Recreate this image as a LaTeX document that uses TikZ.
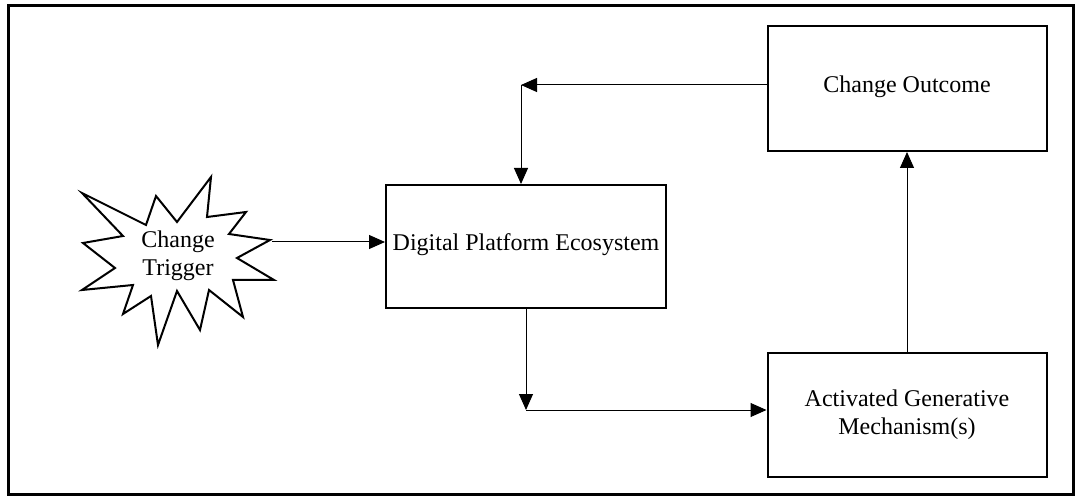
\documentclass[tikz,border=0pt]{standalone}
\usepackage{fontspec}
\setmainfont{Liberation Serif}
\usetikzlibrary{arrows.meta, calc, positioning}
\tikzset{
	frame/.style={draw=black, line width=1.5pt},
	burst/.style={draw=black, line width=1pt, line join=miter},
	flow/.style={-{Triangle[length=8pt,width=7pt]}, black, line width=0.5pt},
	label text/.style={
		text=black,
		align=center,
		font=\fontsize{12}{14}\selectfont
	},
	block/.style={
		rectangle,
		draw=black, line width=1pt,
		fill=white,
		label text,
		inner sep=2pt
	},
	raised/.style={text depth=4pt}
}

\begin{document}
\begin{tikzpicture}[x=0.5pt,y=-0.5pt]

	\useasboundingbox (0,0) rectangle (1081,502);
	\draw[frame] (8,6) rectangle (1073,494);

	% change trigger
	\draw[burst] (82,193)
	\foreach \x/\y in {146/225,156/196,177/222,211/177,207/217,246/212,229/234,270/240,
		237/258,274/280,233/280,243/317,209/290,200/330,177/291,158/345,151/296,
		123/314,133/285,82/290,115/268,83/243,123/236}
		{--(\x,\y)}--cycle;
	\node[label text] (trigger) at (178,256) {Change\\Trigger};
	\coordinate (triggerE) at (272,242);

	% boxes
	\node[block, raised, minimum width=139.5pt, minimum height=62.5pt] (outcome) at (907,88.5) {Change Outcome};
	\node[block, raised, minimum width=140pt, minimum height=61.5pt] (ecosystem) at (526,246.5) {Digital Platform Ecosystem};
	\node[block, minimum width=139.5pt, minimum height=62pt] (mechanism) at (907,415) {Activated Generative\\Mechanism(s)};

	\coordinate (bendA) at (521,85);
	\coordinate (bendB) at (526,410);

	\draw[flow] (triggerE) -- (triggerE -| ecosystem.west);
	\draw[flow] (outcome.west |- bendA) -- (bendA);
	\draw[flow] (bendA) -- (bendA |- ecosystem.north);
	\draw[flow] (bendB |- ecosystem.south) -- (bendB);
	\draw[flow] (bendB) -- (bendB -| mechanism.west);
	\draw[flow] (mechanism.north) -- (outcome.south);

\end{tikzpicture}
\end{document}
